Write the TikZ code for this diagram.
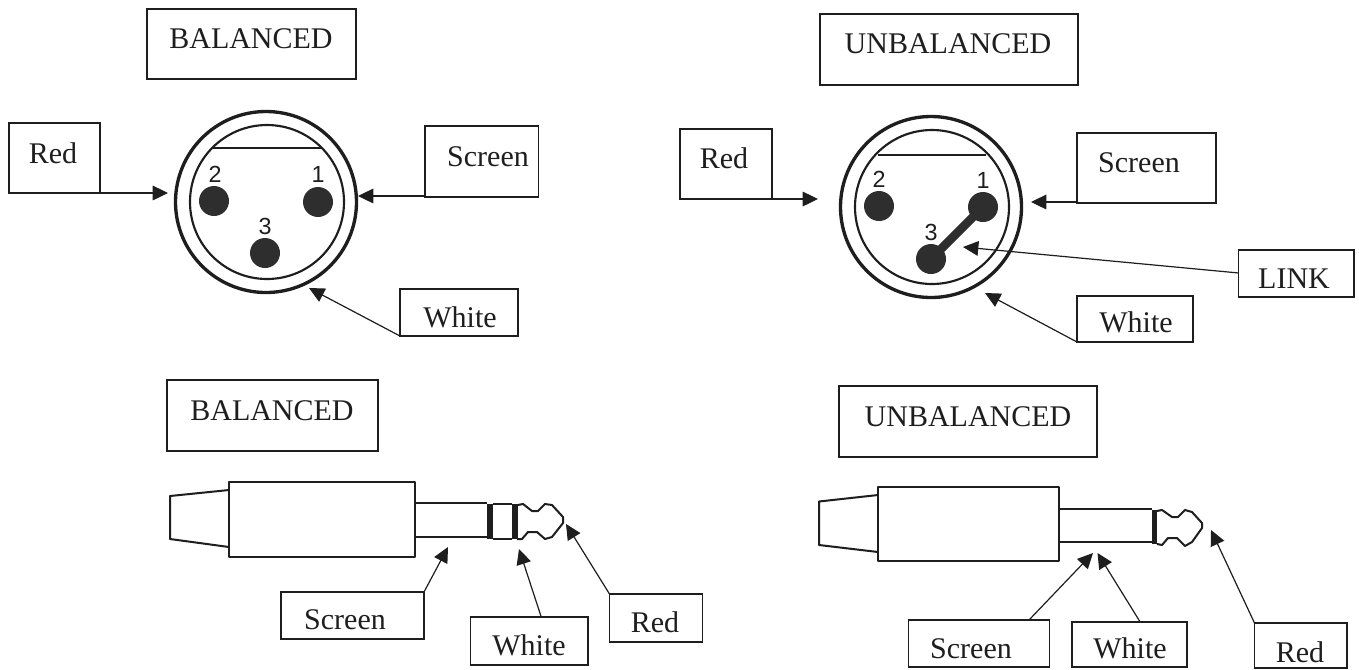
\documentclass[tikz,border=0pt]{standalone}
\usepackage{fontspec}
\setmainfont{Liberation Serif}
\newfontfamily\pinfont{Liberation Sans}
\usetikzlibrary{arrows.meta}
\definecolor{ink}{HTML}{1E1E1E}
\definecolor{pinfill}{HTML}{2E2E2E}
\tikzset{
  boxframe/.style={draw=ink,line width=1.2pt,inner sep=0pt,outer sep=0pt,fill=white},
  boxtext/.style={anchor=base,inner sep=0pt,text=ink,font=\fontsize{22.5}{24}\selectfont},
  pinnum/.style={anchor=center,inner sep=0pt,text=ink,font=\pinfont\fontsize{17.5}{19}\selectfont},
  pindot/.style={circle,fill=pinfill,draw=none,minimum size=22.5pt,inner sep=0pt},
  shellouter/.style={draw=ink,line width=2.5pt},
  shellinner/.style={draw=ink,line width=1.6pt},
  keyline/.style={draw=ink,line width=1.5pt},
  pointer/.style={draw=ink,line width=0.9pt,-{Triangle[length=11.5pt,width=11pt]}},
  plugline/.style={draw=ink,line width=1.5pt,line join=round},
  plugthick/.style={draw=ink,line width=1.9pt,line join=round},
}
\newcommand{\labelbox}[8]{%
  \pgfmathsetmacro{\bcx}{(#2+#4)/2}\pgfmathsetmacro{\bcy}{(#3+#5)/2}%
  \pgfmathsetmacro{\bw}{(#4-#2)*0.75}\pgfmathsetmacro{\bh}{(#5-#3)*0.75}%
  \node[boxframe,minimum width=\bw pt,minimum height=\bh pt] (#1) at (\bcx,\bcy) {};
  \node[boxtext] (#1text) at (#6,#7) {#8};
}
\newcommand{\xlrshell}[5]{% prefix, cx, cy, line y, half width
  \draw[shellouter] (#2,#3) circle [radius=90.5];
  \draw[shellinner] (#2+1,#3) circle [radius=77];
  \draw[keyline] (#2+1-#5,#4) -- (#2+1+#5,#4);
}
\begin{document}
\begin{tikzpicture}[x=0.75pt,y=-0.75pt]
\useasboundingbox (0,0) rectangle (1359,669);
\fill[white] (0,0) rectangle (1359,669);

% --- top left: balanced XLR
\xlrshell{a}{266}{202}{148}{55}
\node[pindot] (aPinTwo) at (214,201) {};
\node[pindot] (aPinOne) at (318,202) {};
\node[pindot] (aPinThree) at (265,253) {};
\node[pinnum] (aNumTwo) at (215,174) {2};
\node[pinnum] (aNumOne) at (318,174) {1};
\node[pinnum] (aNumThree) at (265,226) {3};
\labelbox{aTitle}{147}{9}{356}{79}{251}{48}{BALANCED}
\labelbox{aRed}{9}{123}{100}{193}{53}{163}{Red}
\labelbox{aScreen}{425}{126}{538.5}{197}{488}{166}{Screen}
\labelbox{aWhite}{400}{289}{518}{336}{460}{327}{White}
\coordinate (aRedTip) at (168,193);
\coordinate (aScreenTip) at (358,196);
\coordinate (aWhiteTip) at (309,288);
\draw[pointer] (aRed.south east) -- (aRedTip);
\draw[pointer] ([yshift=0.75pt]aScreen.south west) -- (aScreenTip);
\draw[pointer] (aWhite.south west) -- (aWhiteTip);

% --- top right: unbalanced XLR
\xlrshell{b}{931}{207}{155}{54}
\node[pindot] (bPinTwo) at (879,206) {};
\node[pindot] (bPinOne) at (983,207) {};
\node[pindot] (bPinThree) at (931,259) {};
\draw[draw=pinfill,line width=6.5pt] (bPinOne.center) -- (bPinThree.center);
\node[pinnum] (bNumTwo) at (879,179) {2};
\node[pinnum] (bNumOne) at (983,180) {1};
\node[pinnum] (bNumThree) at (931,232) {3};
\labelbox{bTitle}{820}{14}{1078}{85}{948}{53}{UNBALANCED}
\labelbox{bRed}{680}{129}{772}{199}{724}{168}{Red}
\labelbox{bScreen}{1077}{133}{1216}{203}{1139}{172}{Screen}
\labelbox{bLink}{1238.5}{250}{1354}{297}{1294}{288}{LINK}
\labelbox{bWhite}{1077}{296}{1193}{342}{1136}{332}{White}
\coordinate (bRedTip) at (818,199);
\coordinate (bScreenTip) at (1031,202);
\coordinate (bLinkTip) at (963,247);
\coordinate (bWhiteTip) at (985,293);
\draw[pointer] (bRed.south east) -- (bRedTip);
\draw[pointer] ([yshift=0.75pt]bScreen.south west) -- (bScreenTip);
\draw[pointer] ([yshift=0.4pt]bLink.west) -- (bLinkTip);
\draw[pointer] (bWhite.south west) -- (bWhiteTip);

% --- bottom left: balanced jack
\draw[plugline] (229,490) -- (170,496) -- (170,539) -- (229,547);
\draw[plugline] (415,503) -- (487,503);
\draw[plugthick] (415,537) -- (487,537);
\draw[plugline] (493,504) -- (512,504) (493,538.5) -- (512,538.5);
\fill[ink] (487,504) rectangle (493,539);
\fill[ink] (512,504) rectangle (518,539);
\draw[plugline] (518,505) -- (523,504) -- (532,511) -- (538,511) -- (545,504) -- (552,505) -- (563,517) -- (563,523) -- (552,537) -- (545,539) -- (537,532) -- (528,532) -- (522,539) -- (517,539);
\draw[plugthick,fill=white] (229,482) rectangle (415,557);
\labelbox{cTitle}{167}{380}{378}{451}{272}{420}{BALANCED}
\labelbox{cScreen}{281}{592}{424}{639}{345}{629}{Screen}
\labelbox{cWhite}{470.5}{617}{588}{665}{529}{655}{White}
\labelbox{cRed}{609.5}{594}{702.5}{642}{655}{632}{Red}
\coordinate (cScreenTip) at (448,547);
\coordinate (cWhiteTip) at (519,549);
\coordinate (cRedTip) at (566,524);
\draw[pointer] (cScreen.north east) -- (cScreenTip);
\draw[pointer] ([xshift=9pt]cWhite.north) -- (cWhiteTip);
\draw[pointer] (cRed.north west) -- (cRedTip);

% --- bottom right: unbalanced jack
\draw[plugline] (878,495) -- (819,501.5) -- (819,545) -- (878,552);
\draw[plugline] (1059,509) -- (1152,509);
\draw[plugthick] (1059,542) -- (1152,542);
\fill[ink] (1152,510) rectangle (1157,544);
\draw[plugline] (1157,511) -- (1162,510) -- (1172,517) -- (1178,517) -- (1185,510) -- (1192,512) -- (1202,523) -- (1202,528) -- (1192,542) -- (1185,546) -- (1177,538) -- (1168,538) -- (1162,545) -- (1157,544);
\draw[plugthick,fill=white] (878,487) rectangle (1059,561);
\labelbox{dTitle}{839}{386}{1097}{457}{968}{426}{UNBALANCED}
\labelbox{dScreen}{908.5}{620}{1049.5}{667}{971}{658}{Screen}
\labelbox{dWhite}{1072}{622}{1187}{667}{1130}{658}{White}
\labelbox{dRed}{1254.5}{623}{1347}{668}{1300}{662}{Red}
\coordinate (dScreenTip) at (1093,553);
\coordinate (dWhiteTip) at (1097.5,553);
\coordinate (dRedTip) at (1211,530);
\draw[pointer] ([xshift=37.5pt]dScreen.north) -- (dScreenTip);
\draw[pointer] ([xshift=8pt]dWhite.north) -- (dWhiteTip);
\draw[pointer] (dRed.north west) -- (dRedTip);
\end{tikzpicture}
\end{document}
